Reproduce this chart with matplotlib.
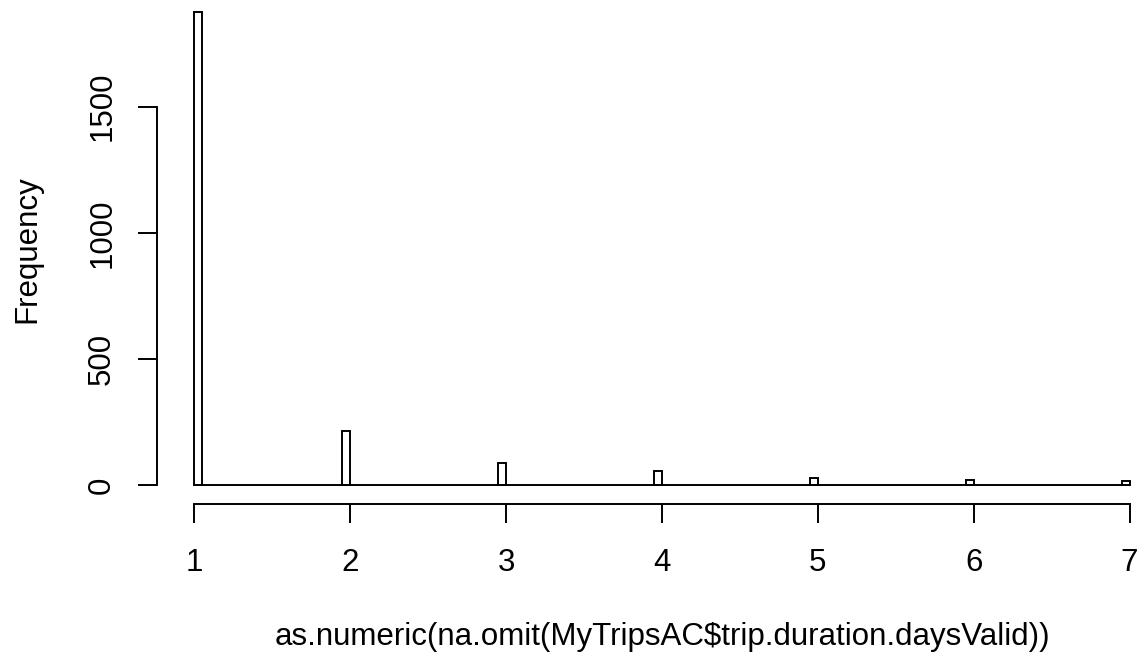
import numpy as np
import matplotlib
matplotlib.use("Agg")
import matplotlib.pyplot as plt

# trip durations (days) and how many trips had each duration
days = [1, 2, 3, 4, 5, 6, 7]
counts = [1874, 215, 86, 54, 27, 21, 17]
bin_width = 0.05  # hist() breaks, right-closed bins (d - 0.05, d], lowest bin [1, 1.05]

x_ticks = [1, 2, 3, 4, 5, 6, 7]
y_ticks = [0, 500, 1000, 1500]

plt.rcParams['font.family'] = ['Liberation Sans', 'DejaVu Sans']
fs = 22.5

fig = plt.figure(figsize=(11.43, 6.59), dpi=100)
W, H = 1143, 659
# plot region in pixels (R style, may run past the image edge)
left, right, top, bottom = 157, 1167, -6.5, 504
ax = fig.add_axes([left / W, 1 - bottom / H, (right - left) / W, (bottom - top) / H])

# lowest bin includes its left edge, the rest are right-closed
lefts = [max(d - bin_width, min(days)) for d in days]
ax.bar(lefts, counts, width=bin_width, align='edge', facecolor='white',
       edgecolor='black', linewidth=1.4)
# empty bins show up as a flat line along zero
ax.hlines(0, min(days), max(days), color='black', linewidth=1.4, zorder=3)

# R pads the range by 4%
xr = max(days) - min(days)
ax.set_xlim(min(days) - 0.04 * xr, max(days) + 0.04 * xr)
yr = max(counts)
ax.set_ylim(-0.04 * yr, yr * 1.04)

for s in ['top', 'right']:
    ax.spines[s].set_visible(False)
ax.spines['left'].set_bounds(0, 1500)
ax.spines['bottom'].set_bounds(1, 7)
ax.spines['left'].set_linewidth(1.4)
ax.spines['bottom'].set_linewidth(1.4)

ax.set_xticks(x_ticks)
ax.set_xticklabels([str(t) for t in x_ticks])
ax.set_yticks(y_ticks)
ax.set_yticklabels([str(t) for t in y_ticks], rotation=90, va='center')
ax.tick_params(direction='out', length=13.7, width=1.4, labelsize=fs)
ax.tick_params(axis='x', pad=18)
ax.tick_params(axis='y', pad=15)

ax.set_xlabel("as.numeric(na.omit(MyTripsAC$trip.duration.daysValid))",
              fontsize=fs, labelpad=32)
ax.set_ylabel("Frequency", fontsize=fs, labelpad=32)

fig.savefig("out.png", dpi=100)
